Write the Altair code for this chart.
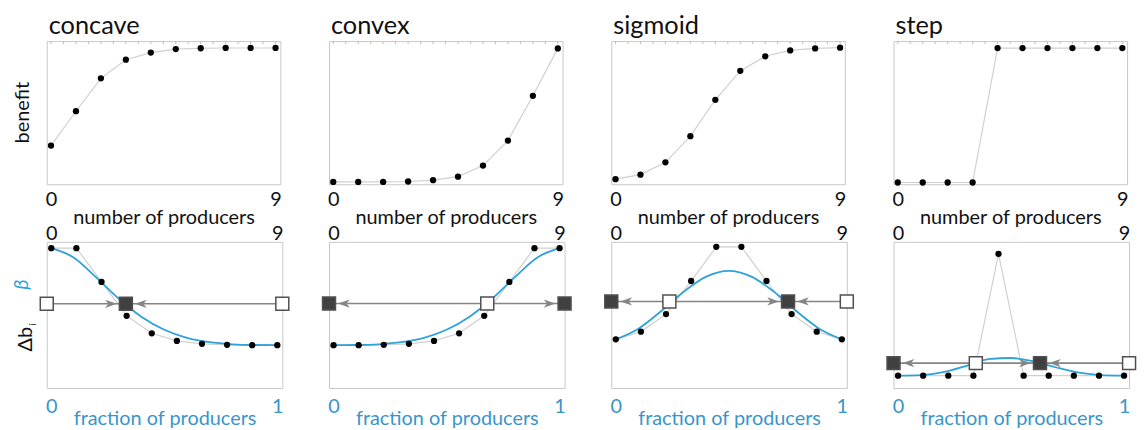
import altair as alt
import pandas as pd

FONT = "Lato"
BLUE_LINE = "#2ea3d9"
BLUE_TEXT = "#3a95c9"
INK = "#111111"

panel_names = ["concave", "convex", "sigmoid", "step"]
n_producers = [0, 1, 2, 3, 4, 5, 6, 7, 8, 9]

# top row: benefit vs number of producers (normalised 0..1 of panel height)
benefit_concave = [0.27, 0.51, 0.74, 0.87, 0.92, 0.944, 0.95, 0.952, 0.952, 0.952]
benefit_convex = [0.016, 0.016, 0.016, 0.019, 0.028, 0.053, 0.13, 0.305, 0.618, 0.949]
benefit_sigmoid = [0.035, 0.067, 0.153, 0.336, 0.59, 0.792, 0.894, 0.935, 0.949, 0.954]
benefit_step = [0.012, 0.012, 0.012, 0.012, 0.951, 0.951, 0.951, 0.951, 0.951, 0.951]

# bottom row: delta b_i dots
delta_concave = [0.957, 0.957, 0.726, 0.494, 0.374, 0.322, 0.302, 0.295, 0.293, 0.293]
delta_convex = [0.293, 0.293, 0.295, 0.302, 0.322, 0.374, 0.494, 0.726, 0.957, 0.957]
delta_sigmoid = [0.333, 0.385, 0.506, 0.732, 0.966, 0.966, 0.732, 0.506, 0.385, 0.333]
delta_step = [0.084, 0.084, 0.084, 0.084, 0.918, 0.084, 0.084, 0.084, 0.084, 0.084]

# smooth blue curves read at these fractions
curve_fraction = [0.0, 0.1, 0.2, 0.3, 0.4, 0.5, 0.6, 0.7, 0.8, 0.9, 1.0]
curve_concave = [0.957, 0.892, 0.755, 0.609, 0.486, 0.398, 0.343, 0.313, 0.299, 0.294, 0.293]
curve_convex = [0.293, 0.294, 0.299, 0.313, 0.343, 0.398, 0.486, 0.609, 0.755, 0.892, 0.957]
curve_sigmoid = [0.333, 0.406, 0.525, 0.658, 0.762, 0.802, 0.762, 0.658, 0.525, 0.406, 0.333]
curve_step = [0.084, 0.088, 0.108, 0.150, 0.198, 0.205, 0.182, 0.140, 0.105, 0.088, 0.084]

# beta level and fixed points (fraction, kind)
beta = [0.576, 0.578, 0.592, 0.170]
fixed_concave = ([-0.02, 0.33, 1.022], ["unstable", "stable", "unstable"])
fixed_convex = ([-0.02, 0.68, 1.022], ["stable", "unstable", "stable"])
fixed_sigmoid = ([-0.02, 0.237, 0.762, 1.022], ["stable", "unstable", "stable", "unstable"])
fixed_step = ([-0.02, 0.344, 0.628, 1.022], ["stable", "unstable", "stable", "unstable"])

top_edge_ticks = [0, 0.5, 1, 1.5, 2, 2.5, 3, 3.5, 4, 4.5, 5, 5.5, 6, 6.5, 7, 7.5, 8, 8.5, 9]

TOP_W, TOP_H = 235, 144
BOT_W, BOT_H = 237, 147

X_TOP = alt.Scale(domain=[-0.17, 9.19], nice=False, zero=False)
X_BOT = alt.Scale(domain=[-0.02, 1.022], nice=False, zero=False)
Y_UNIT = alt.Scale(domain=[0, 1], nice=False, zero=False)

ARROW_RIGHT = "M-1,-0.7L1,0L-1,0.7L-0.45,0Z"
ARROW_LEFT = "M1,-0.7L-1,0L1,0.7L0.45,0Z"


def side_label(text, x, y, size=20, color=INK, italic=False):
    return alt.Chart(pd.DataFrame({"t": [text]})).mark_text(
        color=color, fontSize=size, font=FONT, angle=270, baseline="middle",
        align="center", fontStyle="italic" if italic else "normal").encode(
        text="t:N", x=alt.value(x), y=alt.value(y))


def top_panel(name, values, first):
    df = pd.DataFrame({"n": n_producers, "b": values})
    x_axis = alt.Axis(orient="bottom", values=[0, 9], labelFlush=False, ticks=False,
                      domain=False, grid=False,
                      labelFontSize=20, labelPadding=5, labelColor=INK, labelFont=FONT,
                      title="number of producers", titleFontSize=20, titleFontWeight="normal",
                      titleColor=INK, titleFont=FONT, titlePadding=-1)
    base = alt.Chart(df)
    line = base.mark_line(color="#d0d0d0", strokeWidth=1.2).encode(
        x=alt.X("n:Q", scale=X_TOP, axis=x_axis),
        y=alt.Y("b:Q", scale=Y_UNIT, axis=None),
    )
    dots = base.mark_circle(color="black", size=40, opacity=1).encode(
        x=alt.X("n:Q", scale=X_TOP),
        y=alt.Y("b:Q", scale=Y_UNIT),
    )
    ticks = alt.Chart(pd.DataFrame({"t": top_edge_ticks})).mark_rule(
        color="#bdbdbd", strokeWidth=1).encode(
        x=alt.X("t:Q", scale=X_TOP), y=alt.value(0), y2=alt.value(3))
    layers = [line, dots, ticks]
    if first:
        layers.append(side_label("benefit", -24, TOP_H / 2))
    return alt.layer(*layers).properties(
        width=TOP_W, height=TOP_H,
        title=alt.TitleParams(name, anchor="start", frame="group", fontSize=25.5, font=FONT,
                              fontWeight="normal", color=INK, offset=1, dx=2),
    )


def bottom_panel(deltas, curve, b, fixed, first):
    dots_df = pd.DataFrame({"f": [n / 9 for n in n_producers], "d": deltas})
    curve_df = pd.DataFrame({"f": curve_fraction, "d": curve})
    fx, kinds = fixed
    fixed_df = pd.DataFrame({"f": fx, "beta": [b] * len(fx), "kind": kinds})
    stable = [v for v, k in zip(fx, kinds) if k == "stable"]
    right_arrows = pd.DataFrame({"f": [v for v in stable if v > min(fx)], "beta": b})
    left_arrows = pd.DataFrame({"f": [v for v in stable if v < max(fx)], "beta": b})

    x_bottom = alt.Axis(orient="bottom", values=[0, 1], labelFlush=False, ticks=False,
                        domain=False, grid=False, labelFontSize=20, labelPadding=9,
                        labelColor=BLUE_TEXT, labelFont=FONT,
                        labelExpr="datum.value < 0.5 ? '0' : '1'",
                        title="fraction of producers",
                        titleFontSize=20, titleFontWeight="normal", titleColor=BLUE_TEXT,
                        titleFont=FONT, titlePadding=-8)
    x_top = alt.Axis(orient="top", values=[0, 1], labelFlush=False, ticks=False, domain=False,
                     grid=False, labelFontSize=20, labelPadding=-2, labelColor=INK,
                     labelFont=FONT, labelExpr="datum.value < 0.5 ? '0' : '9'", title=None)

    poly = alt.Chart(dots_df).mark_line(color="#d0d0d0", strokeWidth=1.2).encode(
        x=alt.X("f:Q", scale=X_BOT, axis=x_bottom),
        y=alt.Y("d:Q", scale=Y_UNIT, axis=None))
    blue = alt.Chart(curve_df).mark_line(color=BLUE_LINE, strokeWidth=1.8,
                                         interpolate="monotone").encode(
        x=alt.X("f:Q", scale=X_BOT, axis=x_top),
        y=alt.Y("d:Q", scale=Y_UNIT, axis=None))
    dots = alt.Chart(dots_df).mark_circle(color="black", size=40, opacity=1).encode(
        x=alt.X("f:Q", scale=X_BOT, axis=None),
        y=alt.Y("d:Q", scale=Y_UNIT, axis=None))
    rule = alt.Chart(fixed_df).mark_rule(color="#858585", strokeWidth=1.6).encode(
        y=alt.Y("mean(beta):Q", scale=Y_UNIT, axis=None))
    arr_r = alt.Chart(right_arrows).mark_point(
        shape=ARROW_RIGHT, filled=True, size=140, color="#858585", opacity=1, xOffset=-15).encode(
        x=alt.X("f:Q", scale=X_BOT, axis=None), y=alt.Y("beta:Q", scale=Y_UNIT, axis=None))
    arr_l = alt.Chart(left_arrows).mark_point(
        shape=ARROW_LEFT, filled=True, size=140, color="#858585", opacity=1, xOffset=15).encode(
        x=alt.X("f:Q", scale=X_BOT, axis=None), y=alt.Y("beta:Q", scale=Y_UNIT, axis=None))
    squares = alt.Chart(fixed_df).mark_point(
        shape="square", filled=True, size=170, opacity=1, strokeWidth=1.5, stroke="#505050").encode(
        x=alt.X("f:Q", scale=X_BOT, axis=None), y=alt.Y("beta:Q", scale=Y_UNIT, axis=None),
        fill=alt.Fill("kind:N", scale=alt.Scale(domain=["stable", "unstable"],
                                               range=["#404040", "#ffffff"]), legend=None))
    layers = [poly, blue, dots, rule, arr_r, arr_l, squares]
    if first:
        layers += [
            side_label("β", -25, 43, color=BLUE_LINE, italic=True),
            side_label("Δb", -21, 98),
            side_label("i", -14, 83, size=10),
        ]
    return alt.layer(*layers).resolve_axis(x="independent").properties(width=BOT_W, height=BOT_H)


tops = [
    top_panel("concave", benefit_concave, True),
    top_panel("convex", benefit_convex, False),
    top_panel("sigmoid", benefit_sigmoid, False),
    top_panel("step", benefit_step, False),
]
bottoms = [
    bottom_panel(delta_concave, curve_concave, beta[0], fixed_concave, True),
    bottom_panel(delta_convex, curve_convex, beta[1], fixed_convex, False),
    bottom_panel(delta_sigmoid, curve_sigmoid, beta[2], fixed_sigmoid, False),
    bottom_panel(delta_step, curve_step, beta[3], fixed_step, False),
]

chart = alt.concat(
    *tops, *bottoms, columns=4,
    spacing=alt.RowColnumber(row=58, column=47), bounds="flush",
).properties(padding={"left": 3, "top": 4, "right": 0, "bottom": 0}
).configure(font=FONT).configure_view(stroke="#c8c8c8", strokeWidth=1)

chart.save("out.html", embed_options={"renderer": "svg", "actions": False})
